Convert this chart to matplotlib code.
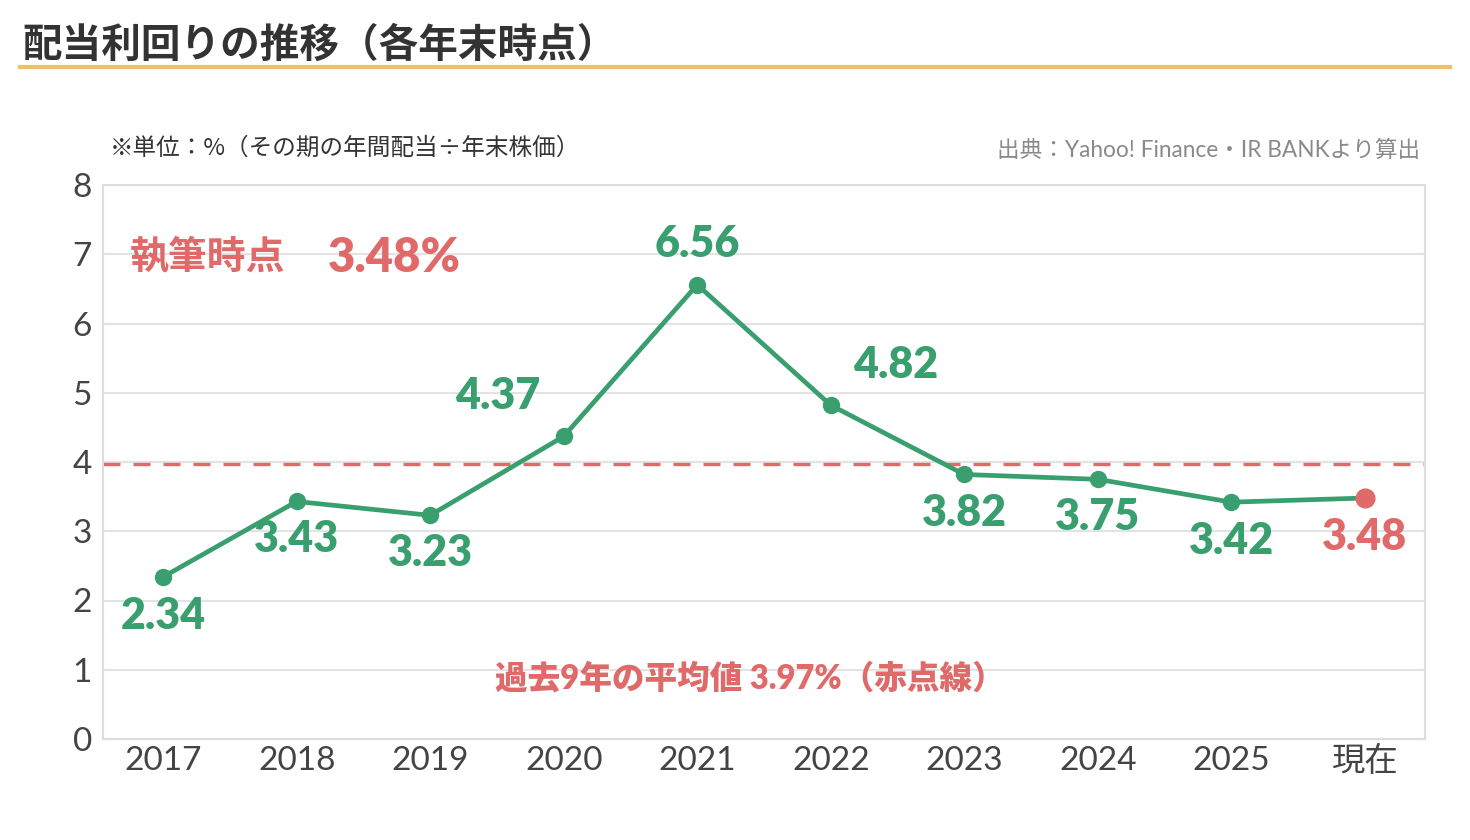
import matplotlib

matplotlib.use("Agg")

import matplotlib.pyplot as plt
from matplotlib.lines import Line2D

plt.rcParams["font.family"] = ["Noto Sans CJK JP", "DejaVu Sans"]
MIXED = ["Lato", "Noto Sans CJK JP", "DejaVu Sans"]

# data
categories = ["2017", "2018", "2019", "2020", "2021", "2022", "2023", "2024", "2025", "現在"]
yields = [2.34, 3.43, 3.23, 4.37, 6.56, 4.82, 3.82, 3.75, 3.42, 3.48]
average_9y = 3.97
current_yield = 3.48

# label offsets in pixels (dx, dy)
label_offsets = [(0, -39), (0, -38), (0, -38), (-66, 40), (0, 41),
                 (65, 40), (0, -39), (0, -38), (0, -39), (0, -39)]

GREEN = "#3a9f6f"
RED = "#e06a6a"
DARK = "#333333"
GRID = "#e3e3e3"
ORANGE = "#f2bf63"

W, H = 1470, 840
fig = plt.figure(figsize=(W / 100, H / 100), dpi=100)
fig.patch.set_facecolor("white")

ax = fig.add_axes([103 / W, 1 - 739 / H, 1322 / W, 554 / H])
x = list(range(len(categories)))

ax.set_xlim(-0.45, len(categories) - 0.55)
ax.set_ylim(0, 8)
ax.set_yticks(range(0, 9))
ax.set_xticks(x)
ax.set_xticklabels(categories)
ax.tick_params(axis="both", length=0, labelsize=24, colors="#444444")
ax.tick_params(axis="x", pad=5)
ax.tick_params(axis="y", pad=8)
for lab in ax.get_xticklabels() + ax.get_yticklabels():
    lab.set_family(MIXED)
ax.grid(axis="y", color=GRID, linewidth=1.5)
ax.set_axisbelow(True)
for sp in ax.spines.values():
    sp.set_color("#dddddd")
    sp.set_linewidth(1.5)

ax.axhline(average_9y, color=RED, linestyle=(0, (5.1, 3.9)), linewidth=2.4, zorder=2)

ax.plot(x, yields, color=GREEN, linewidth=3.4, zorder=3)
ax.plot(x[:-1], yields[:-1], "o", color=GREEN, markersize=11.5, zorder=4)
ax.plot(x[-1], yields[-1], "o", color=RED, markersize=13.5, zorder=4)

for i, (v, (dx, dy)) in enumerate(zip(yields, label_offsets)):
    col = RED if i == len(yields) - 1 else GREEN
    ax.annotate(f"{v:.2f}", (i, v), xytext=(dx, dy), textcoords="offset pixels",
                ha="center", va="center", fontsize=31, fontweight="heavy", color=col,
                family=MIXED)

fig.text(130 / W, 1 - 258 / H, "執筆時点", ha="left", va="center",
         fontsize=28, fontweight="bold", color=RED)
fig.text(328 / W, 1 - 258 / H, f"{current_yield:.2f}%", ha="left", va="center",
         fontsize=34, fontweight="heavy", color=RED, family=MIXED)
fig.text(750 / W, 1 - 678 / H, f"過去9年の平均値 {average_9y:.2f}%（赤点線）", ha="center", va="center",
         fontsize=23.5, fontweight="heavy", color=RED, family=MIXED)

# header
fig.text(22 / W, 1 - 45 / H, "配当利回りの推移（各年末時点）", ha="left", va="center",
         fontsize=28.5, fontweight="bold", color=DARK)
fig.add_artist(Line2D([20 / W, 1450 / W], [1 - 67 / H, 1 - 67 / H], transform=fig.transFigure,
                      color=ORANGE, linewidth=3))
fig.text(110 / W, 1 - 148 / H, "※単位：%（その期の年間配当÷年末株価）", ha="left", va="center",
         fontsize=17, color=DARK)
fig.text(1420 / W, 1 - 150 / H, "出典：Yahoo! Finance・IR BANKより算出", ha="right", va="center",
         fontsize=16.3, color="#8a8a8a", family=MIXED)

fig.savefig("out.png", dpi=100, facecolor="white")
